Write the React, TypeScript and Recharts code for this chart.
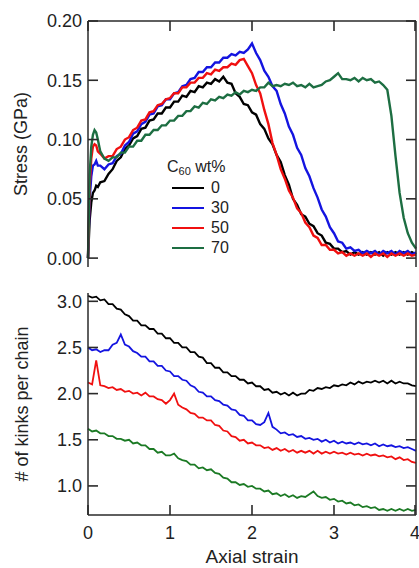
import { LineChart, Line, XAxis, YAxis, Legend } from 'recharts';

const strainTop = [
  0, 0.02, 0.04, 0.06, 0.08, 0.1, 0.12, 0.15,
  0.2, 0.25, 0.3, 0.35, 0.4, 0.45, 0.5, 0.55, 0.6, 0.65, 0.7, 0.75, 0.8, 0.85, 0.9, 0.95,
  1.0, 1.05, 1.1, 1.15, 1.2, 1.25, 1.3, 1.35, 1.4, 1.45, 1.5, 1.55, 1.6, 1.65, 1.7, 1.75, 1.8, 1.85, 1.9, 1.95,
  2.0, 2.05, 2.1, 2.15, 2.2, 2.25, 2.3, 2.35, 2.4, 2.45, 2.5, 2.55, 2.6, 2.65, 2.7, 2.75, 2.8, 2.85, 2.9, 2.95,
  3.0, 3.05, 3.1, 3.15, 3.2, 3.25, 3.3, 3.35, 3.4, 3.45, 3.5, 3.55, 3.6, 3.65, 3.7, 3.75, 3.8, 3.85, 3.9, 3.95, 4.0,
];

// stress (GPa) for each C60 wt%
const stress0 = [
  0, 0.032, 0.047, 0.055, 0.057, 0.061, 0.06, 0.064,
  0.065, 0.071, 0.075, 0.082, 0.085, 0.092, 0.095, 0.101, 0.103, 0.109, 0.11, 0.116, 0.117, 0.122, 0.122, 0.127,
  0.127, 0.132, 0.132, 0.137, 0.136, 0.141, 0.14, 0.145, 0.144, 0.148, 0.147, 0.151, 0.149, 0.153, 0.148, 0.147, 0.139, 0.136, 0.13, 0.129,
  0.123, 0.121, 0.113, 0.109, 0.101, 0.096, 0.087, 0.081, 0.07, 0.062, 0.05, 0.045, 0.037, 0.035, 0.029, 0.027, 0.021, 0.019, 0.013, 0.012,
  0.008, 0.008, 0.005, 0.006, 0.003, 0.005, 0.003, 0.005, 0.003, 0.005, 0.003, 0.005, 0.002, 0.005, 0.003, 0.005, 0.003, 0.005, 0.003, 0.005, 0.003,
];
const stress30 = [
  0, 0.05, 0.069, 0.078, 0.079, 0.082, 0.078, 0.078,
  0.075, 0.079, 0.08, 0.086, 0.088, 0.095, 0.098, 0.105, 0.107, 0.113, 0.115, 0.121, 0.122, 0.128, 0.129, 0.134,
  0.134, 0.139, 0.14, 0.145, 0.146, 0.151, 0.152, 0.157, 0.157, 0.161, 0.161, 0.165, 0.165, 0.169, 0.169, 0.172, 0.171, 0.174, 0.173, 0.176,
  0.181, 0.173, 0.167, 0.158, 0.153, 0.145, 0.141, 0.13, 0.122, 0.111, 0.104, 0.093, 0.087, 0.076, 0.069, 0.059, 0.051, 0.041, 0.035, 0.026,
  0.021, 0.014, 0.013, 0.008, 0.009, 0.006, 0.007, 0.004, 0.006, 0.004, 0.006, 0.003, 0.006, 0.004, 0.006, 0.003, 0.006, 0.004, 0.006, 0.003, 0.005,
];
const stress50 = [
  0, 0.06, 0.084, 0.094, 0.096, 0.095, 0.09, 0.088,
  0.084, 0.086, 0.086, 0.092, 0.094, 0.1, 0.102, 0.108, 0.11, 0.116, 0.117, 0.123, 0.124, 0.129, 0.13, 0.134,
  0.135, 0.139, 0.139, 0.144, 0.144, 0.148, 0.148, 0.152, 0.152, 0.156, 0.155, 0.159, 0.158, 0.161, 0.161, 0.164, 0.163, 0.167, 0.168, 0.162,
  0.156, 0.146, 0.139, 0.125, 0.113, 0.097, 0.087, 0.075, 0.067, 0.057, 0.051, 0.042, 0.038, 0.03, 0.026, 0.019, 0.017, 0.011, 0.011, 0.007,
  0.007, 0.004, 0.005, 0.002, 0.004, 0.002, 0.004, 0.002, 0.004, 0.001, 0.004, 0.002, 0.004, 0.001, 0.004, 0.002, 0.004, 0.002, 0.004, 0.002, 0.003,
];
const stress70 = [
  0, 0.07, 0.094, 0.104, 0.108, 0.106, 0.1, 0.09,
  0.084, 0.082, 0.085, 0.085, 0.089, 0.089, 0.094, 0.094, 0.099, 0.099, 0.104, 0.104, 0.108, 0.108, 0.112, 0.112,
  0.116, 0.116, 0.12, 0.12, 0.124, 0.124, 0.128, 0.127, 0.131, 0.13, 0.134, 0.133, 0.136, 0.135, 0.138, 0.137, 0.14, 0.138, 0.141, 0.14,
  0.142, 0.141, 0.144, 0.144, 0.148, 0.145, 0.146, 0.145, 0.147, 0.146, 0.148, 0.145, 0.146, 0.144, 0.147, 0.144, 0.145, 0.146, 0.149, 0.15,
  0.153, 0.156, 0.151, 0.151, 0.15, 0.152, 0.149, 0.152, 0.15, 0.151, 0.148, 0.149, 0.146, 0.142, 0.12, 0.086, 0.055, 0.034, 0.021, 0.013, 0.008,
];

const strainBottom = [
  0, 0.05, 0.1, 0.15, 0.2, 0.25, 0.3, 0.35, 0.4, 0.45, 0.5, 0.55, 0.6, 0.65, 0.7, 0.75, 0.8, 0.85, 0.9, 0.95,
  1.0, 1.05, 1.1, 1.15, 1.2, 1.25, 1.3, 1.35, 1.4, 1.45, 1.5, 1.55, 1.6, 1.65, 1.7, 1.75, 1.8, 1.85, 1.9, 1.95,
  2.0, 2.05, 2.1, 2.15, 2.2, 2.25, 2.3, 2.35, 2.4, 2.45, 2.5, 2.55, 2.6, 2.65, 2.7, 2.75, 2.8, 2.85, 2.9, 2.95,
  3.0, 3.05, 3.1, 3.15, 3.2, 3.25, 3.3, 3.35, 3.4, 3.45, 3.5, 3.55, 3.6, 3.65, 3.7, 3.75, 3.8, 3.85, 3.9, 3.95, 4.0,
];

// kinks per chain for each C60 wt%
const kinks0 = [
  3.06, 3.04, 3.05, 3.01, 3.02, 2.97, 2.97, 2.92, 2.91, 2.86, 2.84, 2.79, 2.79, 2.74, 2.74, 2.7, 2.7, 2.65, 2.65, 2.6,
  2.6, 2.55, 2.55, 2.5, 2.5, 2.45, 2.45, 2.4, 2.39, 2.33, 2.33, 2.28, 2.28, 2.23, 2.23, 2.19, 2.19, 2.15, 2.15, 2.11,
  2.12, 2.08, 2.08, 2.04, 2.05, 2.01, 2.02, 1.99, 2.01, 1.98, 2.01, 1.98, 2.0, 2.0, 2.04, 2.03, 2.06, 2.05, 2.07, 2.06,
  2.09, 2.08, 2.1, 2.09, 2.12, 2.1, 2.13, 2.11, 2.13, 2.12, 2.14, 2.12, 2.14, 2.11, 2.14, 2.11, 2.13, 2.11, 2.11, 2.09, 2.08,
];
const kinks30 = [
  2.5, 2.47, 2.48, 2.45, 2.47, 2.47, 2.53, 2.55, 2.64, 2.53, 2.51, 2.46, 2.44, 2.4, 2.4, 2.35, 2.35, 2.3, 2.3, 2.25,
  2.24, 2.19, 2.19, 2.15, 2.14, 2.09, 2.07, 2.02, 2.01, 1.97, 1.97, 1.93, 1.92, 1.88, 1.87, 1.83, 1.82, 1.77, 1.76, 1.71,
  1.71, 1.67, 1.66, 1.69, 1.79, 1.64, 1.61, 1.57, 1.58, 1.55, 1.56, 1.53, 1.54, 1.51, 1.52, 1.5, 1.51, 1.48, 1.5, 1.47,
  1.49, 1.46, 1.48, 1.46, 1.47, 1.45, 1.47, 1.45, 1.46, 1.44, 1.46, 1.43, 1.45, 1.43, 1.44, 1.42, 1.43, 1.41, 1.42, 1.4, 1.38,
];
const kinks50 = [
  2.12, 2.1, 2.36, 2.09, 2.08, 2.06, 2.07, 2.04, 2.05, 2.02, 2.03, 2.0, 2.01, 1.98, 2.01, 1.97, 1.97, 1.94, 1.93, 1.89,
  1.93, 2.0, 1.88, 1.85, 1.83, 1.79, 1.78, 1.74, 1.74, 1.71, 1.71, 1.66, 1.65, 1.6, 1.59, 1.54, 1.53, 1.49, 1.5, 1.46,
  1.47, 1.44, 1.44, 1.41, 1.42, 1.39, 1.41, 1.38, 1.4, 1.37, 1.39, 1.36, 1.38, 1.36, 1.38, 1.35, 1.38, 1.35, 1.37, 1.35,
  1.37, 1.35, 1.36, 1.34, 1.36, 1.34, 1.35, 1.33, 1.35, 1.33, 1.34, 1.32, 1.33, 1.31, 1.32, 1.29, 1.31, 1.28, 1.29, 1.26, 1.25,
];
const kinks70 = [
  1.62, 1.59, 1.6, 1.57, 1.57, 1.54, 1.54, 1.51, 1.51, 1.49, 1.5, 1.46, 1.47, 1.44, 1.44, 1.4, 1.4, 1.36, 1.37, 1.33,
  1.33, 1.35, 1.3, 1.28, 1.27, 1.23, 1.23, 1.19, 1.2, 1.17, 1.18, 1.14, 1.13, 1.09, 1.08, 1.04, 1.04, 1.01, 1.02, 0.99,
  1.0, 0.97, 0.97, 0.94, 0.95, 0.91, 0.92, 0.89, 0.91, 0.88, 0.9, 0.87, 0.89, 0.88, 0.91, 0.94, 0.89, 0.87, 0.88, 0.85,
  0.86, 0.83, 0.84, 0.81, 0.82, 0.79, 0.8, 0.77, 0.78, 0.76, 0.77, 0.74, 0.75, 0.73, 0.75, 0.73, 0.75, 0.73, 0.75, 0.73, 0.74,
];

const strainTicks = [0, 1, 2, 3, 4];
const stressTicks = [0, 0.05, 0.1, 0.15, 0.2];
const kinkTicks = [1.0, 1.5, 2.0, 2.5, 3.0];

const topData = strainTop.map((x, i) => ({ x, s0: stress0[i], s30: stress30[i], s50: stress50[i], s70: stress70[i] }));
const bottomData = strainBottom.map((x, i) => ({ x, k0: kinks0[i], k30: kinks30[i], k50: kinks50[i], k70: kinks70[i] }));

const FONT = '"Liberation Sans", Arial, sans-serif';
const AXIS = '#2a2a2a';
const TICK_LEN = 10;
const tickText = { fontSize: 18, fill: '#222', fontFamily: FONT };

// ticks point inward, labels sit outside
const leftTick = (digits: number) => (p: any) => (
  <g>
    <line x1={p.x + 6} x2={p.x + 6 + TICK_LEN} y1={p.y} y2={p.y} stroke={AXIS} strokeWidth={1.6} />
    <text x={p.x} y={p.y} dy="0.36em" textAnchor="end" style={tickText}>{p.payload.value.toFixed(digits)}</text>
  </g>
);
const rightTick = (p: any) => (
  <line x1={p.x - TICK_LEN} x2={p.x} y1={p.y} y2={p.y} stroke={AXIS} strokeWidth={1.6} />
);
const topTick = (p: any) => (
  <line x1={p.x} x2={p.x} y1={p.y} y2={p.y + TICK_LEN} stroke={AXIS} strokeWidth={1.6} />
);
const bottomTick = (p: any) => (
  <g>
    <line x1={p.x} x2={p.x} y1={p.y - 11} y2={p.y - 11 - TICK_LEN} stroke={AXIS} strokeWidth={1.6} />
    <text x={p.x} y={p.y} dy="0.72em" textAnchor="middle" style={tickText}>{p.payload.value}</text>
  </g>
);

const renderLegend = (props: any) => (
  <div style={{ fontFamily: FONT, fontSize: 16, color: '#222' }}>
    <div style={{ height: 23, lineHeight: '23px' }}>
      C<sub style={{ fontSize: 11, verticalAlign: '-3px' }}>60</sub> wt%
    </div>
    {props.payload.map((p: any) => (
      <div key={p.value} style={{ height: 20, display: 'flex', alignItems: 'center' }}>
        <span style={{ display: 'inline-block', width: 32, height: 2, background: p.payload?.stroke || p.color, marginLeft: 5, marginRight: 7 }} />
        {p.value}
      </div>
    ))}
  </div>
);

export default function App() {
  return (
    <div style={{ position: 'absolute', left: 0, top: 0, width: 419, height: 568, background: '#fff', fontFamily: FONT }}>
      <div style={{ position: 'absolute', left: 0, top: 0 }}>
        <LineChart width={419} height={280} data={topData} margin={{ top: 20, right: 2, bottom: 13, left: 0 }}>
          <XAxis dataKey="x" type="number" domain={[0, 4]} ticks={strainTicks} orientation="top" height={1}
            tick={topTick} tickLine={false} tickSize={0} tickMargin={0} stroke={AXIS} strokeWidth={1.5} />
          <YAxis type="number" domain={[-0.0075, 0.2]} ticks={stressTicks} width={88} allowDataOverflow
            tick={leftTick(2)} tickLine={false} tickSize={0} tickMargin={6} stroke={AXIS} strokeWidth={1.5}
            label={{ value: 'Stress (GPa)', angle: -90, position: 'insideLeft', offset: 21, style: { textAnchor: 'middle', fontSize: 18, fill: '#222', fontFamily: FONT } }} />
          <YAxis yAxisId="r" orientation="right" type="number" domain={[-0.0075, 0.2]} ticks={stressTicks} width={1}
            tick={rightTick} tickLine={false} tickSize={0} tickMargin={0} stroke={AXIS} strokeWidth={1.5} allowDataOverflow />
          <Line dataKey="s0" name="0" stroke="#000000" strokeWidth={2.4} dot={false} isAnimationActive={false} />
          <Line dataKey="s30" name="30" stroke="#1414e0" strokeWidth={2.4} dot={false} isAnimationActive={false} />
          <Line dataKey="s50" name="50" stroke="#f01010" strokeWidth={2.4} dot={false} isAnimationActive={false} />
          <Line dataKey="s70" name="70" stroke="#1d6e42" strokeWidth={2.4} dot={false} isAnimationActive={false} />
          <Legend layout="vertical" align="center" verticalAlign="middle" content={renderLegend}
            wrapperStyle={{ position: 'absolute', left: 167, top: 155, width: 90 }} />
        </LineChart>
      </div>
      <div style={{ position: 'absolute', left: 0, top: 280 }}>
        <LineChart width={419} height={288} data={bottomData} margin={{ top: 13, right: 2, bottom: 23, left: 0 }}>
          <XAxis dataKey="x" type="number" domain={[0, 4]} ticks={strainTicks} height={30}
            tick={bottomTick} tickLine={false} tickSize={0} tickMargin={11} stroke={AXIS} strokeWidth={1.5}
            label={{ value: 'Axial strain', position: 'bottom', offset: 5, style: { fontSize: 19, fill: '#222', fontFamily: FONT } }} />
          <YAxis type="number" domain={[0.685, 3.09]} ticks={kinkTicks} width={88} allowDataOverflow
            tick={leftTick(1)} tickLine={false} tickSize={0} tickMargin={6} stroke={AXIS} strokeWidth={1.5}
            label={{ value: '# of kinks per chain', angle: -90, position: 'insideLeft', offset: 22, style: { textAnchor: 'middle', fontSize: 18, fill: '#222', fontFamily: FONT } }} />
          <YAxis yAxisId="r" orientation="right" type="number" domain={[0.685, 3.09]} ticks={kinkTicks} width={1}
            tick={rightTick} tickLine={false} tickSize={0} tickMargin={0} stroke={AXIS} strokeWidth={1.5} allowDataOverflow />
          <Line dataKey="k0" stroke="#000000" strokeWidth={1.8} dot={false} isAnimationActive={false} />
          <Line dataKey="k30" stroke="#1414e0" strokeWidth={1.8} dot={false} isAnimationActive={false} />
          <Line dataKey="k50" stroke="#f01010" strokeWidth={1.8} dot={false} isAnimationActive={false} />
          <Line dataKey="k70" stroke="#1b7a24" strokeWidth={1.8} dot={false} isAnimationActive={false} />
        </LineChart>
      </div>
    </div>
  );
}
